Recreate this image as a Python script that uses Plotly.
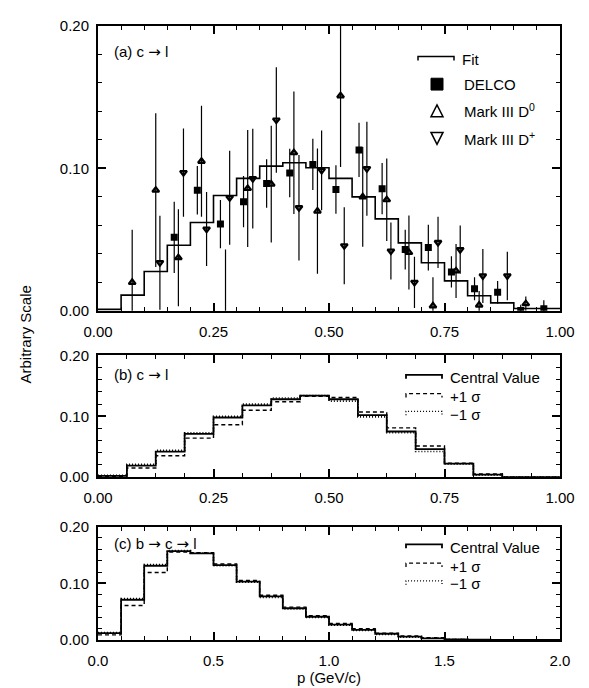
import numpy as np
import plotly.graph_objects as go

# ---------------- data ----------------
# (a) fit histogram, 0.05 GeV/c bins from 0 to 1
fit_edges = np.round(np.arange(0, 1.0001, 0.05), 3)
fit_vals = [0.001, 0.011, 0.0276, 0.046, 0.062, 0.081, 0.093, 0.1016, 0.104, 0.1005,
            0.093, 0.080, 0.0646, 0.0477, 0.0338, 0.021, 0.0106, 0.0056, 0.0016, 0.0016]

delco_p = [0.165, 0.215, 0.265, 0.315, 0.365, 0.415, 0.465, 0.515, 0.565, 0.615,
           0.665, 0.715, 0.765, 0.815, 0.865, 0.915, 0.965]
delco_v = [0.0516, 0.0847, 0.0609, 0.0766, 0.0894, 0.0968, 0.1028, 0.0852, 0.113, 0.0858,
           0.043, 0.0444, 0.0273, 0.0155, 0.013, 0.0003, 0.0015]
delco_e = [0.025, 0.017, 0.017, 0.018, 0.017, 0.017, 0.018, 0.017, 0.019, 0.018,
           0.014, 0.016, 0.011, 0.008, 0.008, 0.004, 0.006]

d0_p = [0.074, 0.125, 0.174, 0.224, 0.276, 0.324, 0.375, 0.424, 0.475, 0.525,
        0.573, 0.625, 0.673, 0.725, 0.775, 0.825, 0.926]
d0_v = [0.020, 0.0847, 0.0373, 0.105, -0.004, 0.0859, 0.089, 0.111, 0.070, 0.151,
        0.080, 0.078, 0.041, 0.0035, 0.028, 0.004, 0.005]
d0_e = [0.037, 0.054, 0.034, 0.039, 0.047, 0.041, 0.041, 0.043, 0.044, 0.050,
        0.035, 0.029, 0.026, 0.020, 0.019, 0.010, 0.005]

dp_p = [0.134, 0.185, 0.235, 0.285, 0.335, 0.386, 0.435, 0.484, 0.533, 0.582,
        0.634, 0.685, 0.736, 0.784, 0.833, 0.886]
dp_v = [0.0338, 0.097, 0.0574, 0.0794, 0.0928, 0.134, 0.0724, 0.0986, 0.0457, 0.0998,
        0.042, 0.020, 0.048, 0.043, 0.0245, 0.0245]
dp_e = [0.033, 0.031, 0.026, 0.033, 0.035, 0.037, 0.037, 0.028, 0.027, 0.033,
        0.020, 0.018, 0.018, 0.017, 0.019, 0.017]

# (b) c -> l spectra, 1/16 GeV/c bins
b_edges = np.round(np.arange(0, 1.0001, 0.0625), 4)
b_central = [0.002, 0.019, 0.042, 0.071, 0.098, 0.118, 0.128, 0.134,
             0.128, 0.102, 0.075, 0.046, 0.022, 0.004, 0.0, 0.0]
b_plus = [0.001, 0.015, 0.035, 0.064, 0.086, 0.110, 0.124, 0.133,
          0.131, 0.107, 0.081, 0.051, 0.023, 0.005, 0.0, 0.0]
b_minus = [0.003, 0.021, 0.044, 0.073, 0.100, 0.120, 0.130, 0.134,
           0.125, 0.099, 0.073, 0.042, 0.021, 0.003, 0.0, 0.0]

# (c) b -> c -> l spectra, 0.1 GeV/c bins
c_edges = np.round(np.arange(0, 2.0001, 0.1), 2)
c_central = [0.012, 0.071, 0.131, 0.157, 0.153, 0.132, 0.103, 0.077, 0.056, 0.041,
             0.027, 0.018, 0.011, 0.006, 0.003, 0.001, 0.0005, 0.0, 0.0, 0.0]
c_plus = [0.009, 0.061, 0.119, 0.155, 0.154, 0.134, 0.105, 0.079, 0.058, 0.043,
          0.029, 0.020, 0.012, 0.007, 0.004, 0.001, 0.0005, 0.0, 0.0, 0.0]
c_minus = [0.013, 0.073, 0.133, 0.158, 0.153, 0.131, 0.102, 0.075, 0.055, 0.040,
           0.026, 0.017, 0.010, 0.005, 0.003, 0.001, 0.0005, 0.0, 0.0, 0.0]

# ---------------- layout geometry ----------------
W, H = 589, 688
ML, MR, MT, MB = 90, 37, 9, 56
PW, PH = W - ML - MR, H - MT - MB
FONT = "Liberation Sans, Arial, Helvetica, sans-serif"
ARROW = '<span style="font-family:DejaVu Sans">→</span>'


def px(x):
    return (x - ML) / PW


def py(y):
    return (H - MB - y) / PH


def steps(edges, vals):
    return list(edges), list(vals) + [vals[-1]]


fig = go.Figure()

# panel (a)
sx, sy = steps(fit_edges, fit_vals)
fig.add_trace(go.Scatter(x=sx, y=sy, mode="lines", line=dict(shape="hv", color="black", width=1.6),
                         xaxis="x", yaxis="y", showlegend=False))
err_style = dict(type="data", width=0, thickness=1.2, color="black")
fig.add_trace(go.Scatter(x=delco_p, y=delco_v, mode="markers",
                         marker=dict(symbol="square", size=7, color="black"),
                         error_y=dict(array=delco_e, **err_style), xaxis="x", yaxis="y", showlegend=False))
fig.add_trace(go.Scatter(x=d0_p, y=d0_v, mode="markers",
                         marker=dict(symbol="triangle-up-open", size=6, color="black", line=dict(width=2.2, color="black")),
                         error_y=dict(array=d0_e, **err_style), xaxis="x", yaxis="y", showlegend=False))
fig.add_trace(go.Scatter(x=dp_p, y=dp_v, mode="markers",
                         marker=dict(symbol="triangle-down-open", size=6, color="black", line=dict(width=2.2, color="black")),
                         error_y=dict(array=dp_e, **err_style), xaxis="x", yaxis="y", showlegend=False))

# panels (b) and (c)
for edges, cen, plus, minus, xa, ya in [(b_edges, b_central, b_plus, b_minus, "x2", "y2"),
                                        (c_edges, c_central, c_plus, c_minus, "x3", "y3")]:
    for vals, dash, wd in [(minus, "1px,2px", 1.6), (plus, "4px,3px", 1.4), (cen, "solid", 1.8)]:
        sx, sy = steps(edges, vals)
        fig.add_trace(go.Scatter(x=sx, y=sy, mode="lines",
                                 line=dict(shape="hv", color="black", width=wd, dash=dash),
                                 xaxis=xa, yaxis=ya, showlegend=False))


def axis_style(**kw):
    d = dict(showline=True, linewidth=2, linecolor="black", mirror="allticks",
             ticks="inside", ticklen=8, tickwidth=1.5, tickcolor="black",
             showgrid=False, zeroline=False,
             tickfont=dict(size=15, color="black", family=FONT))
    d.update(kw)
    return d


def minor(dt):
    return dict(dtick=dt, tick0=0, ticks="inside", ticklen=4, tickwidth=1, tickcolor="black")


doms = {"a": [py(298), py(9)], "b": [py(466.7), py(343.3)], "c": [py(632), py(517)]}

fig.update_layout(
    width=W, height=H,
    margin=dict(l=ML, r=MR, t=MT, b=MB),
    paper_bgcolor="white", plot_bgcolor="white",
    font=dict(family=FONT, size=15, color="black"),
    showlegend=False,
    xaxis=axis_style(domain=[0, 1], range=[0, 1], tickvals=[0, 0.25, 0.5, 0.75, 1.0], tickformat=".2f",
                     minor=minor(0.05), anchor="y", ticklabelstandoff=6),
    yaxis=axis_style(domain=doms["a"], range=[0, 0.2], tickvals=[0, 0.1, 0.2], tickformat=".2f",
                     minor=minor(0.02), anchor="x", ticklabelstandoff=4),
    xaxis2=axis_style(domain=[0, 1], range=[0, 1], tickvals=[0, 0.25, 0.5, 0.75, 1.0], tickformat=".2f",
                      minor=minor(0.0625), anchor="y2", ticklabelstandoff=6),
    yaxis2=axis_style(domain=doms["b"], range=[0, 0.2], tickvals=[0, 0.1, 0.2], tickformat=".2f",
                      minor=minor(0.02), anchor="x2", ticklabelstandoff=4),
    xaxis3=axis_style(domain=[0, 1], range=[0, 2], tickvals=[0, 0.5, 1.0, 1.5, 2.0], tickformat=".1f",
                      minor=minor(0.1), anchor="y3", ticklabelstandoff=6,
                      title=dict(text="p (GeV/c)", font=dict(size=15, family=FONT), standoff=4)),
    yaxis3=axis_style(domain=doms["c"], range=[0, 0.2], tickvals=[0, 0.1, 0.2], tickformat=".2f",
                      minor=minor(0.02), anchor="x3", ticklabelstandoff=4),
)

ann = []
shapes = []


def text(x, y, s, size=15, xanchor="left"):
    ann.append(dict(x=px(x), y=py(y), xref="paper", yref="paper", text=s, showarrow=False,
                    xanchor=xanchor, yanchor="middle", font=dict(size=size, family=FONT, color="black")))


# y title
ann.append(dict(x=px(17), y=py(322), xref="paper", yref="paper", text="Arbitrary Scale", showarrow=False,
                textangle=-90, xanchor="center", yanchor="middle", font=dict(size=15, family=FONT, color="black")))

# panel labels
text(104, 35, f"(a) c {ARROW} l")
text(104, 363, f"(b) c {ARROW} l")
text(104, 535, f"(c) b {ARROW} c {ARROW} l")


def bracket(x1, x2, y, dash="solid", width=1.5):
    shapes.append(dict(type="path", xref="paper", yref="paper",
                       path=f"M {px(x1)},{py(y + 4)} L {px(x1)},{py(y)} L {px(x2)},{py(y)} L {px(x2)},{py(y + 4)}",
                       line=dict(color="black", width=width, dash=dash)))


# legend (a)
bracket(410, 446, 40)
text(452, 43, "Fit")
shapes.append(dict(type="rect", xref="paper", yref="paper", x0=px(423), x1=px(435), y0=py(74), y1=py(62),
                   fillcolor="black", line=dict(color="black", width=1)))
text(454, 68, "DELCO")
shapes.append(dict(type="path", xref="paper", yref="paper",
                   path=f"M {px(423)},{py(101)} L {px(435)},{py(101)} L {px(429)},{py(89)} Z",
                   line=dict(color="black", width=1.5)))
text(454, 95, "Mark III D<sup>0</sup>")
shapes.append(dict(type="path", xref="paper", yref="paper",
                   path=f"M {px(423)},{py(117)} L {px(435)},{py(117)} L {px(429)},{py(129)} Z",
                   line=dict(color="black", width=1.5)))
text(454, 123, "Mark III D<sup>+</sup>")

# legends (b), (c)
for y0 in (366, 538):
    bracket(398, 434, y0 - 3, "solid", 1.8)
    text(440, y0, "Central Value")
    bracket(398, 434, y0 + 16, "4px,3px", 1.3)
    text(440, y0 + 19, "+1 σ")
    bracket(398, 434, y0 + 34, "1px,2px", 1.3)
    text(440, y0 + 37, "−1 σ")

fig.update_layout(annotations=ann, shapes=shapes)
fig.write_html("out.html")
